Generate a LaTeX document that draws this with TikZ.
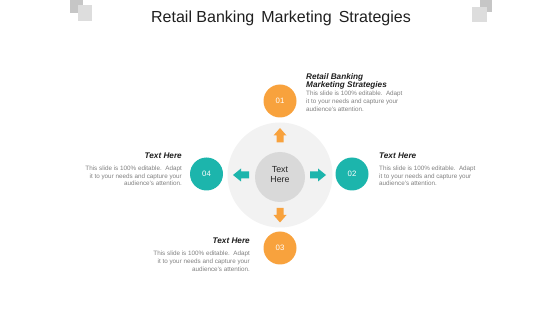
\documentclass[tikz,border=0pt]{standalone}
\usepackage{fontspec}
\setmainfont{Liberation Sans}
\definecolor{myorange}{HTML}{F8A23D}
\definecolor{myteal}{HTML}{1CB5AC}
\definecolor{ringgray}{HTML}{F2F2F2}
\definecolor{coregray}{HTML}{D9D9D9}
\definecolor{bodygray}{HTML}{808080}
\definecolor{sqdark}{HTML}{C6C6C6}
\definecolor{sqlight}{HTML}{DDDDDD}
\tikzset{
  numcirc/.style={circle, minimum size=33pt, inner sep=0pt, text=white, font=\fontsize{7.8}{9}\selectfont},
  headtxt/.style={inner sep=0pt, text=black!88, font=\fontsize{8.2}{9}\selectfont\bfseries\itshape},
  bodytxt/.style={inner sep=0pt, text=bodygray, font=\fontsize{6.3}{7.5}\selectfont},
}
\begin{document}
\begin{tikzpicture}[x=1pt,y=-1pt]
\useasboundingbox (0,0) rectangle (560,315);
% decorative squares
\fill[sqdark] (70,0) rectangle (83,13.5);
\fill[sqlight] (78,5.5) rectangle (92,21);
\fill[sqdark] (480,0) rectangle (492,12);
\fill[sqlight] (472,7) rectangle (487,22);
% title
\node[inner sep=0pt, anchor=base, text=black!88, font=\fontsize{16}{18}\selectfont] (title) at (281,22.5) {Retail Banking\ \,Marketing\ \,Strategies};
% central circles
\node[circle, fill=ringgray, minimum size=105pt, inner sep=0pt] (ring) at (280,175) {};
\node[circle, fill=coregray, minimum size=50pt, inner sep=0pt] (core) at (280,177) {};
\node[inner sep=0pt, anchor=base, text=black!85, font=\fontsize{8.8}{10}\selectfont] (ct1) at (280,172.7) {Text};
\node[inner sep=0pt, anchor=base, text=black!85, font=\fontsize{8.8}{10}\selectfont] (ct2) at (280,182.7) {Here};
% block arrows
\begin{scope}[shift={(280,135)}]
  \fill[myorange] (-3.5,7.5) -- (-3.5,0.5) -- (-6.5,0.5) -- (0,-7) -- (6.5,0.5) -- (3.5,0.5) -- (3.5,7.5) -- cycle;
\end{scope}
\begin{scope}[shift={(280,215.5)}]
  \fill[myorange] (-3.5,-7.5) -- (-3.5,-0.5) -- (-6.5,-0.5) -- (0,7) -- (6.5,-0.5) -- (3.5,-0.5) -- (3.5,-7.5) -- cycle;
\end{scope}
\begin{scope}[shift={(318,175)}]
  \fill[myteal] (-8,-3.5) -- (0,-3.5) -- (0,-6.5) -- (8,0) -- (0,6.5) -- (0,3.5) -- (-8,3.5) -- cycle;
\end{scope}
\begin{scope}[shift={(241,175)}]
  \fill[myteal] (8,-3.5) -- (0,-3.5) -- (0,-6.5) -- (-8,0) -- (0,6.5) -- (0,3.5) -- (8,3.5) -- cycle;
\end{scope}
% number circles
\node[numcirc, fill=myorange] (n1) at (280,101) {01};
\node[numcirc, fill=myteal] (n2) at (352,174) {02};
\node[numcirc, fill=myorange] (n3) at (280,248) {03};
\node[numcirc, fill=myteal] (n4) at (206.5,174) {04};
% block 01 (top right)
\node[headtxt, anchor=base west] (h1a) at (306,79.3) {Retail Banking};
\node[headtxt, anchor=base west] (h1b) at (306,88) {Marketing Strategies};
\node[bodytxt, anchor=base west] (b1a) at (306,96) {This slide is 100\% editable.\ \ Adapt};
\node[bodytxt, anchor=base west] (b1b) at (306,104) {it to your needs and capture your};
\node[bodytxt, anchor=base west] (b1c) at (306,112) {audience's attention.};
% block 02 (right)
\node[headtxt, anchor=base west] (h2) at (379,158.3) {Text Here};
\node[bodytxt, anchor=base west] (b2a) at (379,170.7) {This slide is 100\% editable.\ \ Adapt};
\node[bodytxt, anchor=base west] (b2b) at (379,178.3) {it to your needs and capture your};
\node[bodytxt, anchor=base west] (b2c) at (379,186) {audience's attention.};
% block 04 (left)
\node[headtxt, anchor=base east] (h4) at (182,158.3) {Text Here};
\node[bodytxt, anchor=base east] (b4a) at (182,171) {This slide is 100\% editable.\ \ Adapt};
\node[bodytxt, anchor=base east] (b4b) at (182,178.5) {it to your needs and capture your};
\node[bodytxt, anchor=base east] (b4c) at (182,186) {audience's attention.};
% block 03 (bottom)
\node[headtxt, anchor=base east] (h3) at (250,243.3) {Text Here};
\node[bodytxt, anchor=base east] (b3a) at (250,256) {This slide is 100\% editable.\ \ Adapt};
\node[bodytxt, anchor=base east] (b3b) at (250,263.7) {it to your needs and capture your};
\node[bodytxt, anchor=base east] (b3c) at (250,271.3) {audience's attention.};
\end{tikzpicture}
\end{document}
